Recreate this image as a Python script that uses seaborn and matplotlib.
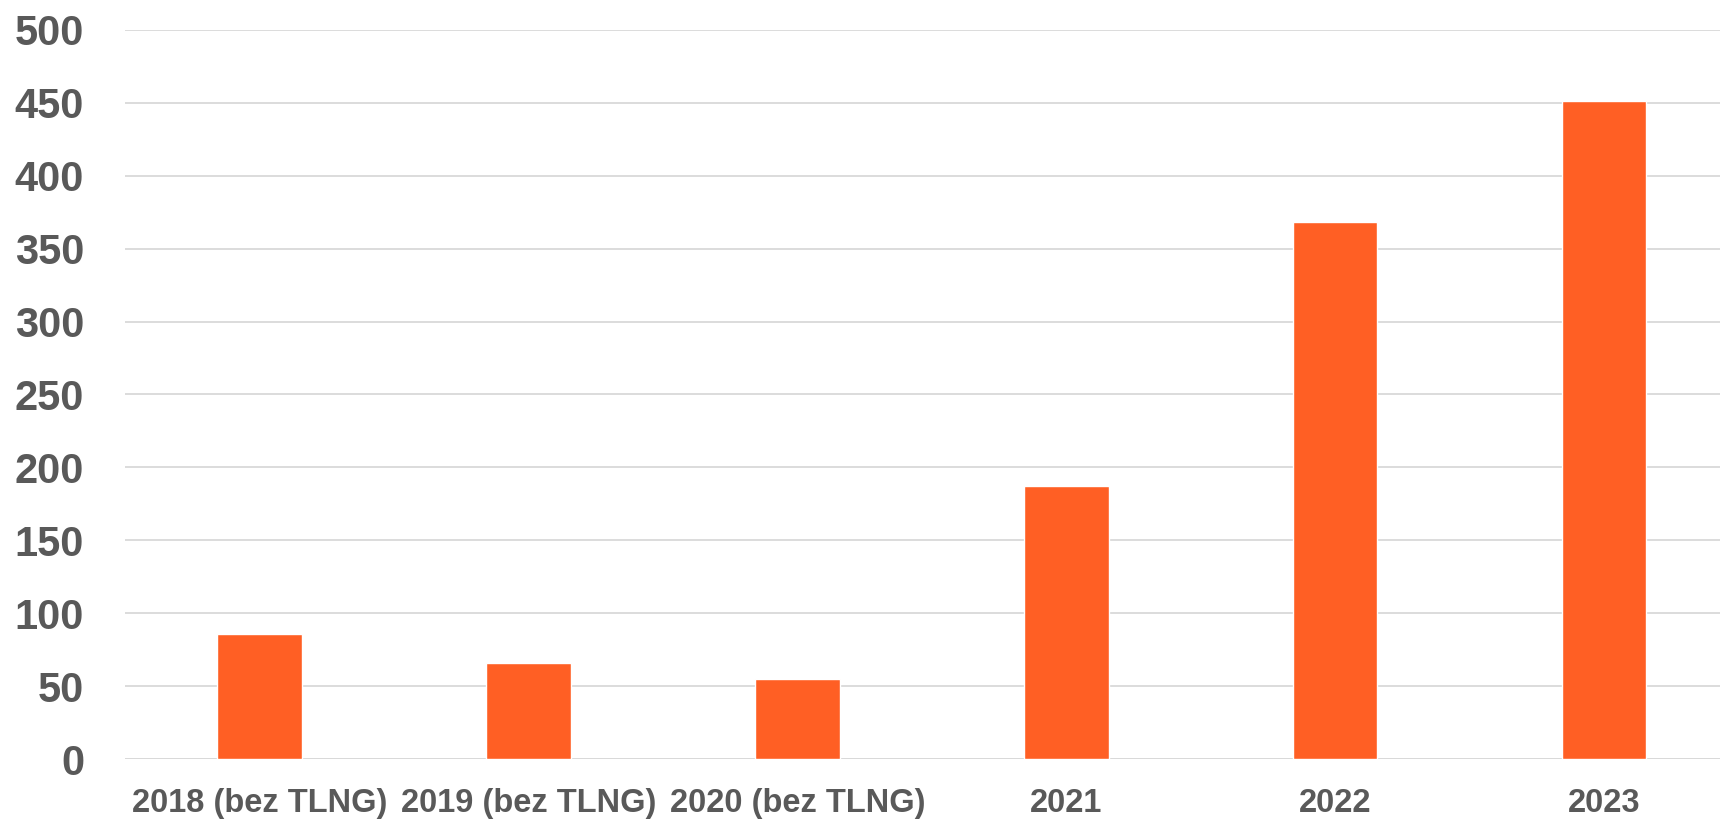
import matplotlib
matplotlib.use("Agg")
import matplotlib.pyplot as plt
import seaborn as sns
import pandas as pd

categories = ["2018 (bez TLNG)", "2019 (bez TLNG)", "2020 (bez TLNG)", "2021", "2022", "2023"]
values = [86, 66, 55, 187, 368, 451]
yticks = [0, 50, 100, 150, 200, 250, 300, 350, 400, 450, 500]

sns.set_theme(style="white")
plt.rcParams['font.family'] = ['Liberation Sans', 'DejaVu Sans']

df = pd.DataFrame({"cat": categories, "val": values})

fig = plt.figure(figsize=(17.2, 8.21), dpi=100)
ax = fig.add_axes([0.0727, 0.0755, 0.938, 0.888])
sns.barplot(data=df, x="cat", y="val", color="#FF5F24", width=0.315, saturation=1, ax=ax, zorder=3)
ax.set_xlim(-0.5, 5.5)
ax.set_ylim(0, 500)
ax.set_yticks(yticks)
ax.yaxis.grid(True, color="#D9D9D9", linewidth=1.3, zorder=0)
ax.set_axisbelow(True)
for s in ax.spines.values():
    s.set_visible(False)
ax.set_xlabel("")
ax.set_ylabel("")
ax.tick_params(axis="y", length=0, pad=29.5, labelsize=30, labelcolor="#595959")
ax.tick_params(axis="x", length=0, pad=21, labelsize=23.5, labelcolor="#595959")
ax.set_yticklabels([str(v) for v in yticks], fontweight="bold")
for t in ax.get_xticklabels():
    t.set_fontweight("bold")
ax.axhline(0, color="#D9D9D9", linewidth=1.3, zorder=1)

fig.savefig("out.png", dpi=100)
